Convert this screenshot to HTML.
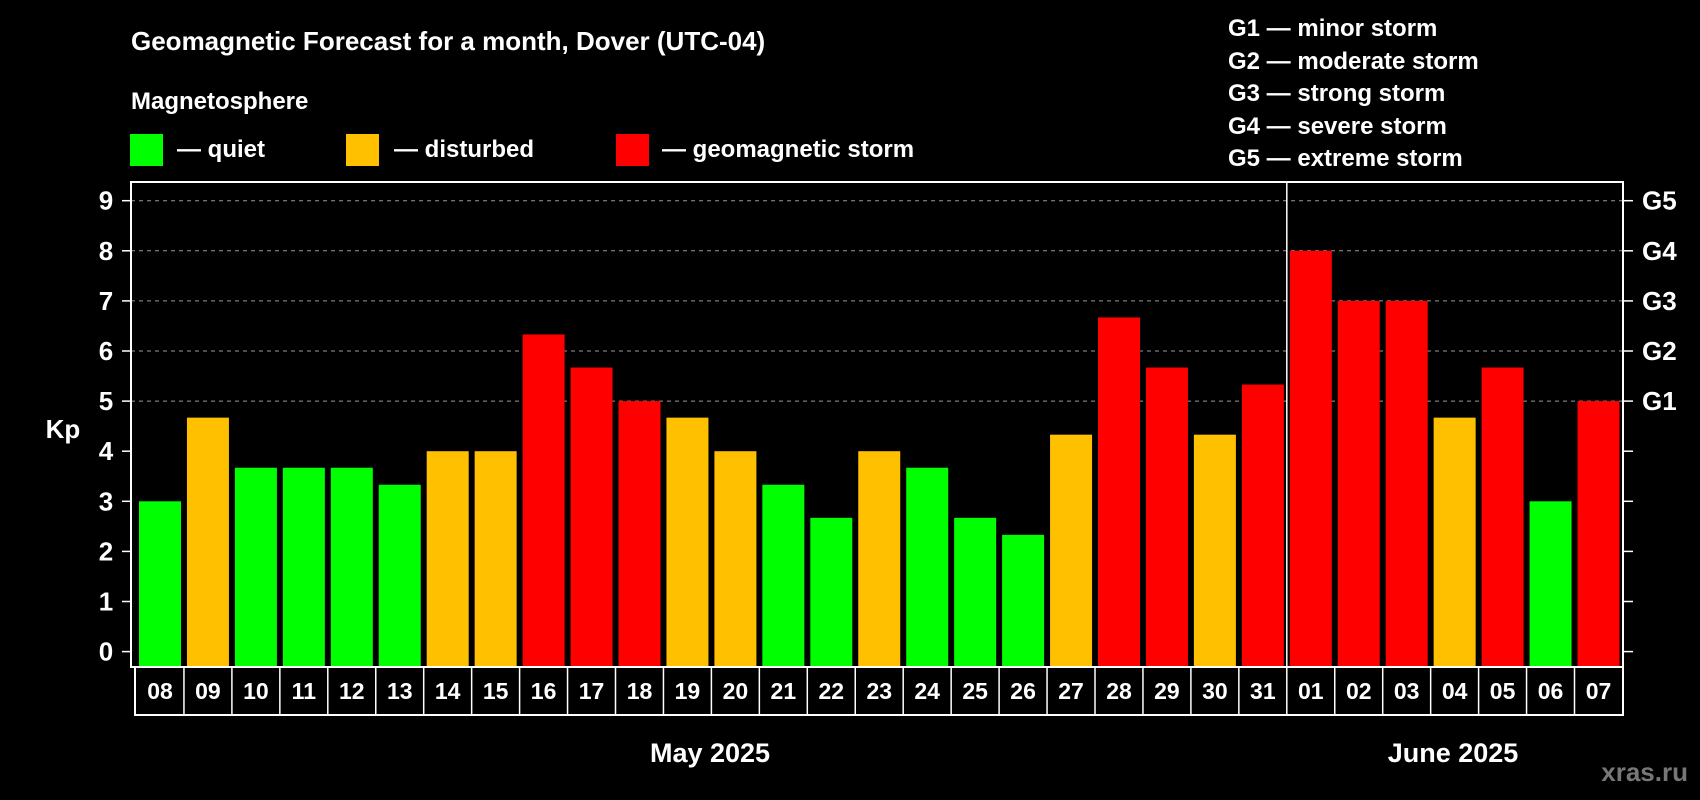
<!DOCTYPE html>
<html><head><meta charset="utf-8"><style>
html,body{margin:0;padding:0;background:#000;}
svg{display:block;font-family:"Liberation Sans",Arial,sans-serif;font-weight:bold;}
</style></head><body>
<svg id="chart" width="1700" height="800" viewBox="0 0 1700 800">
<rect x="0" y="0" width="1700" height="800" fill="#000"/>
<text x="131" y="50" fill="#fff" font-size="26">Geomagnetic Forecast for a month, Dover (UTC-04)</text>
<text x="131" y="109" fill="#fff" font-size="24">Magnetosphere</text>
<g><rect x="130" y="134" width="33" height="32" fill="#00ff00"/><text x="177" y="157" fill="#fff" font-size="24">— quiet</text></g>
<g><rect x="346" y="134" width="33" height="32" fill="#ffc000"/><text x="394" y="157" fill="#fff" font-size="24">— disturbed</text></g>
<g><rect x="616" y="134" width="33" height="32" fill="#ff0000"/><text x="662" y="157" fill="#fff" font-size="24">— geomagnetic storm</text></g>
<g fill="#fff" font-size="24">
<text x="1228" y="36">G1 — minor storm</text>
<text x="1228" y="69">G2 — moderate storm</text>
<text x="1228" y="101">G3 — strong storm</text>
<text x="1228" y="134">G4 — severe storm</text>
<text x="1228" y="166">G5 — extreme storm</text>
</g>
<text x="63" y="438" fill="#fff" font-size="26" text-anchor="middle">Kp</text>
<g id="grid"></g>
<g id="bars"></g>
<g id="axes"></g>
<g id="labels"></g>
<text x="710" y="762" fill="#fff" font-size="27" text-anchor="middle">May 2025</text>
<text x="1453" y="762" fill="#fff" font-size="27" text-anchor="middle">June 2025</text>
<text x="1688" y="781" fill="#777" font-size="26" text-anchor="end">xras.ru</text>
</svg>
<script>
const days = ["08","09","10","11","12","13","14","15","16","17","18","19","20","21","22","23","24","25","26","27","28","29","30","31","01","02","03","04","05","06","07"];
const kpValues = [3,4.67,3.67,3.67,3.67,3.33,4,4,6.33,5.67,5,4.67,4,3.33,2.67,4,3.67,2.67,2.33,4.33,6.67,5.67,4.33,5.33,8,7,7,4.67,5.67,3,5];
const yTicks = [0,1,2,3,4,5,6,7,8,9];
const gLabels = ["G1","G2","G3","G4","G5"];
const gLevels = [5,6,7,8,9];
const monthSplitIndex = 24;

const NS = "http://www.w3.org/2000/svg";
const plotL = 131, plotR = 1623, plotT = 182, plotB = 667;
const y0 = 651.6, unit = 50.1;
const slot = 47.95, barOff = 8, barW = 42;
function yScale(v){ return y0 - v*unit; }
function xScale(i){ return plotL + barOff + i*slot; }
function mk(tag, attrs, parent){ const e=document.createElementNS(NS,tag); for(const k in attrs) e.setAttribute(k,attrs[k]); parent.appendChild(e); return e; }
function color(v){ return v>=5 ? "#ff0000" : (v>=4 ? "#ffc000" : "#00ff00"); }

const grid = document.getElementById("grid");
gLevels.forEach(function(l){
  const ln = mk("line",{x1:plotL,x2:plotR,y1:yScale(l),y2:yScale(l),stroke:"#999","stroke-width":1,"stroke-dasharray":"4,4"},grid);
  
  
});

const bars = document.getElementById("bars");
kpValues.forEach(function(v,i){
  const r = mk("rect",{x:xScale(i),y:yScale(v),width:barW,height:plotB-yScale(v),fill:color(v)},bars);
  
  
});

const axes = document.getElementById("axes");
const frame = mk("rect",{x:plotL,y:plotT,width:plotR-plotL,height:plotB-plotT,fill:"none",stroke:"#fff","stroke-width":2},axes);


const split = mk("line",{x1:xScale(monthSplitIndex)-3,x2:xScale(monthSplitIndex)-3,y1:plotT,y2:plotB,stroke:"#fff","stroke-width":1.5},axes);


yTicks.forEach(function(t){
  const y = yScale(t);
  const lt = mk("line",{x1:plotL-9,x2:plotL,y1:y,y2:y,stroke:"#fff","stroke-width":1.5},axes);
  
  
  const rt = mk("line",{x1:plotR,x2:plotR+10,y1:y,y2:y,stroke:"#fff","stroke-width":1.5},axes);
  
  
  const tx = mk("text",{x:106,y:y+9,fill:"#fff","font-size":26,"text-anchor":"middle"},axes);
  tx.textContent = t;
  
  
});
gLevels.forEach(function(l,i){
  const tx = mk("text",{x:1642,y:yScale(l)+9,fill:"#fff","font-size":26},axes);
  tx.textContent = gLabels[i];
  
  
});

const labels = document.getElementById("labels");
const boxL = plotL + 4, boxT = plotB, boxB = 715;
const outer = mk("rect",{x:boxL,y:boxT,width:plotR-boxL,height:boxB-boxT,fill:"none",stroke:"#fff","stroke-width":2},labels);


days.forEach(function(d,i){
  const cx = xScale(i) + barW/2;
  if(i>0){
    const sep = mk("line",{x1:xScale(i)-3,x2:xScale(i)-3,y1:boxT,y2:boxB,stroke:"#fff","stroke-width":1.5},labels);
    
    
  }
  const tx = mk("text",{x:cx,y:699,fill:"#fff","font-size":23,"text-anchor":"middle"},labels);
  tx.textContent = d;
  
  
});
</script>
</body></html>
